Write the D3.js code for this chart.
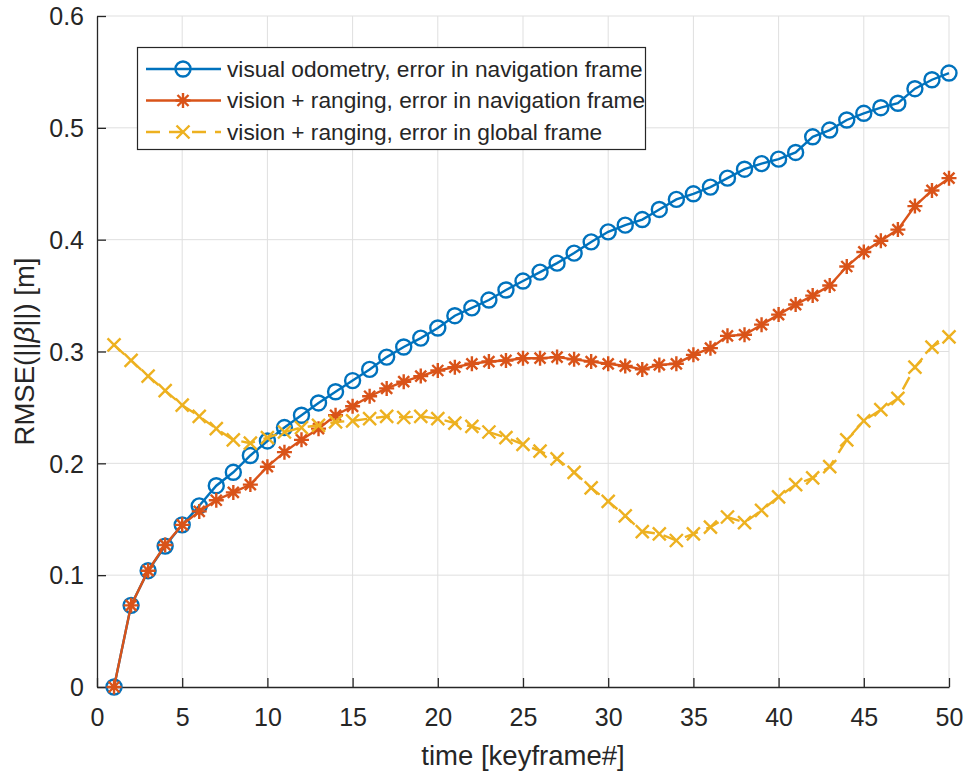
<!DOCTYPE html>
<html>
<head>
<meta charset="utf-8">
<script src="https://cdn.jsdelivr.net/npm/d3@7"></script>
<style>
    body { margin: 0; background: #ffffff; }
    text { font-family: "Liberation Sans", Arial, Helvetica, sans-serif; fill: #262626; }
</style>
</head>
<body>
<div id="chart"></div>
<script>
// keyframe index on x
const keyframes = [1,2,3,4,5,6,7,8,9,10,11,12,13,14,15,16,17,18,19,20,
    21,22,23,24,25,26,27,28,29,30,31,32,33,34,35,36,37,38,39,40,
    41,42,43,44,45,46,47,48,49,50];

const vo_nav = [0,0.073,0.104,0.126,0.145,0.162,0.180,0.192,0.207,0.220,
    0.232,0.243,0.254,0.264,0.274,0.284,0.295,0.304,0.312,0.321,
    0.332,0.339,0.346,0.355,0.363,0.371,0.379,0.388,0.398,0.407,
    0.413,0.418,0.427,0.436,0.441,0.447,0.455,0.463,0.468,0.472,
    0.478,0.492,0.498,0.507,0.513,0.518,0.522,0.535,0.543,0.549];

const vr_nav = [0,0.073,0.104,0.127,0.145,0.157,0.167,0.174,0.181,0.197,
    0.210,0.221,0.231,0.243,0.251,0.260,0.267,0.273,0.278,0.283,
    0.286,0.289,0.291,0.292,0.294,0.294,0.295,0.293,0.291,0.289,
    0.287,0.284,0.288,0.289,0.297,0.303,0.314,0.315,0.324,0.333,
    0.342,0.350,0.359,0.376,0.389,0.399,0.409,0.430,0.444,0.455];

const vr_global = [0.306,0.292,0.278,0.265,0.252,0.242,0.231,0.221,0.218,0.223,
    0.228,0.232,0.234,0.237,0.238,0.240,0.242,0.241,0.242,0.240,
    0.236,0.233,0.228,0.223,0.217,0.211,0.204,0.192,0.178,0.166,
    0.153,0.139,0.137,0.131,0.137,0.143,0.152,0.147,0.158,0.170,
    0.181,0.187,0.197,0.221,0.238,0.248,0.258,0.286,0.304,0.313];

const x_ticks = [0,5,10,15,20,25,30,35,40,45,50];
const y_ticks = [0,0.1,0.2,0.3,0.4,0.5,0.6];

const series_names = [
    'visual odometry, error in navigation frame',
    'vision + ranging, error in navigation frame',
    'vision + ranging, error in global frame'
];
const series_colors = ['#0072BD','#D95319','#EDB120'];
const series_markers = ['circle','star','cross'];
const series_dash = [null, null, '14,9'];

const width = 967, height = 776;
const margin = {left: 97, right: 18, top: 16, bottom: 89};

function draw_marker(g, type, color) {
    if (type === 'circle') {
        g.append('circle').attr('r', 7.5)
            .attr('fill', 'none').attr('stroke', color).attr('stroke-width', 2.4);
    } else if (type === 'star') {
        let p = 'M-7.5,0L7.5,0M0,-7.5L0,7.5M-5.5,-5.5L5.5,5.5M-5.5,5.5L5.5,-5.5';
        g.append('path').attr('d', p)
            .attr('fill', 'none').attr('stroke', color).attr('stroke-width', 2.4);
    } else {
        let p = 'M-6.5,-6.5L6.5,6.5M-6.5,6.5L6.5,-6.5';
        g.append('path').attr('d', p)
            .attr('fill', 'none').attr('stroke', color).attr('stroke-width', 2.4);
    }
}

function draw_chart() {
    let svg = d3.select('#chart').append('svg')
        .attr('width', width)
        .attr('height', height);

    let x = d3.scaleLinear().domain([0, 50]).range([margin.left, width - margin.right]);
    let y = d3.scaleLinear().domain([0, 0.6]).range([height - margin.bottom, margin.top]);

    // grid
    svg.append('g').selectAll('line.gx')
        .data(x_ticks.slice(1)).enter().append('line')
        .attr('x1', d => x(d)).attr('x2', d => x(d))
        .attr('y1', y(0)).attr('y2', y(0.6))
        .attr('stroke', '#dfdfdf').attr('stroke-width', 1);
    svg.append('g').selectAll('line.gy')
        .data(y_ticks.slice(1)).enter().append('line')
        .attr('x1', x(0)).attr('x2', x(50))
        .attr('y1', d => y(d)).attr('y2', d => y(d))
        .attr('stroke', '#dfdfdf').attr('stroke-width', 1);

    // axes, ticks pointing inward
    let x_axis = d3.axisBottom(x).tickValues(x_ticks).tickSizeInner(-9).tickSizeOuter(0).tickPadding(22);
    let y_axis = d3.axisLeft(y).tickValues(y_ticks).tickSizeInner(-9).tickSizeOuter(0).tickPadding(13)
        .tickFormat(d => d3.format('')(+d.toFixed(1)));

    let gx = svg.append('g').attr('transform', `translate(0,${y(0)})`).call(x_axis);
    let gy = svg.append('g').attr('transform', `translate(${x(0)},0)`).call(y_axis);
    [gx, gy].forEach(g => {
        g.select('.domain').attr('stroke', '#262626').attr('stroke-width', 1.3);
        g.selectAll('.tick line').attr('stroke', '#262626').attr('stroke-width', 1.3);
        g.selectAll('.tick text').attr('font-size', 25).attr('fill', '#262626')
            .style('font-family', '"Liberation Sans", Arial, sans-serif');
    });
    gy.selectAll('.tick text').attr('dy', '0.35em');
    gx.selectAll('.tick text').attr('dy', '0.35em').attr('y', 30);

    // axis labels
    svg.append('text')
        .attr('x', (x(0) + x(50)) / 2)
        .attr('y', 765)
        .attr('text-anchor', 'middle')
        .attr('font-size', 27.5)
        .text('time [keyframe#]');

    let ylab = svg.append('text')
        .attr('transform', `translate(34,${(y(0) + y(0.6)) / 2}) rotate(-90)`)
        .attr('text-anchor', 'middle')
        .attr('font-size', 27.5);
    ylab.append('tspan').text('RMSE(||');
    ylab.append('tspan').attr('font-style', 'italic').text('\u03B2');
    ylab.append('tspan').text('||) [m]');

    // series
    let all_series = [vo_nav, vr_nav, vr_global];
    let line = d3.line().x((d, i) => x(keyframes[i])).y(d => y(d));

    all_series.forEach((vals, k) => {
        let g = svg.append('g');
        g.append('path')
            .datum(vals)
            .attr('d', line)
            .attr('fill', 'none')
            .attr('stroke', series_colors[k])
            .attr('stroke-width', 2.4)
            .attr('stroke-dasharray', series_dash[k]);
        g.selectAll('.mk')
            .data(vals).enter().append('g')
            .attr('class', 'mk')
            .attr('transform', (d, i) => `translate(${x(keyframes[i])},${y(d)})`)
            .each(function () { draw_marker(d3.select(this), series_markers[k], series_colors[k]); });
    });

    // legend
    let leg = svg.append('g');
    leg.append('rect')
        .attr('x', 137.5).attr('y', 47.5)
        .attr('width', 508).attr('height', 102)
        .attr('fill', '#ffffff')
        .attr('stroke', '#262626').attr('stroke-width', 1.2);
    let rows = [69, 100.5, 132];
    series_names.forEach((name, k) => {
        let r = leg.append('g').attr('transform', `translate(0,${rows[k]})`);
        r.append('line')
            .attr('x1', 146).attr('x2', 221)
            .attr('y1', 0).attr('y2', 0)
            .attr('stroke', series_colors[k]).attr('stroke-width', 2.4)
            .attr('stroke-dasharray', series_dash[k]);
        let m = r.append('g').attr('transform', 'translate(183,0)');
        draw_marker(m, series_markers[k], series_colors[k]);
        r.append('text')
            .attr('x', 227).attr('y', 0).attr('dy', '0.35em')
            .attr('font-size', 22.7)
            .text(name);
    });
}

draw_chart();
</script>
</body>
</html>
